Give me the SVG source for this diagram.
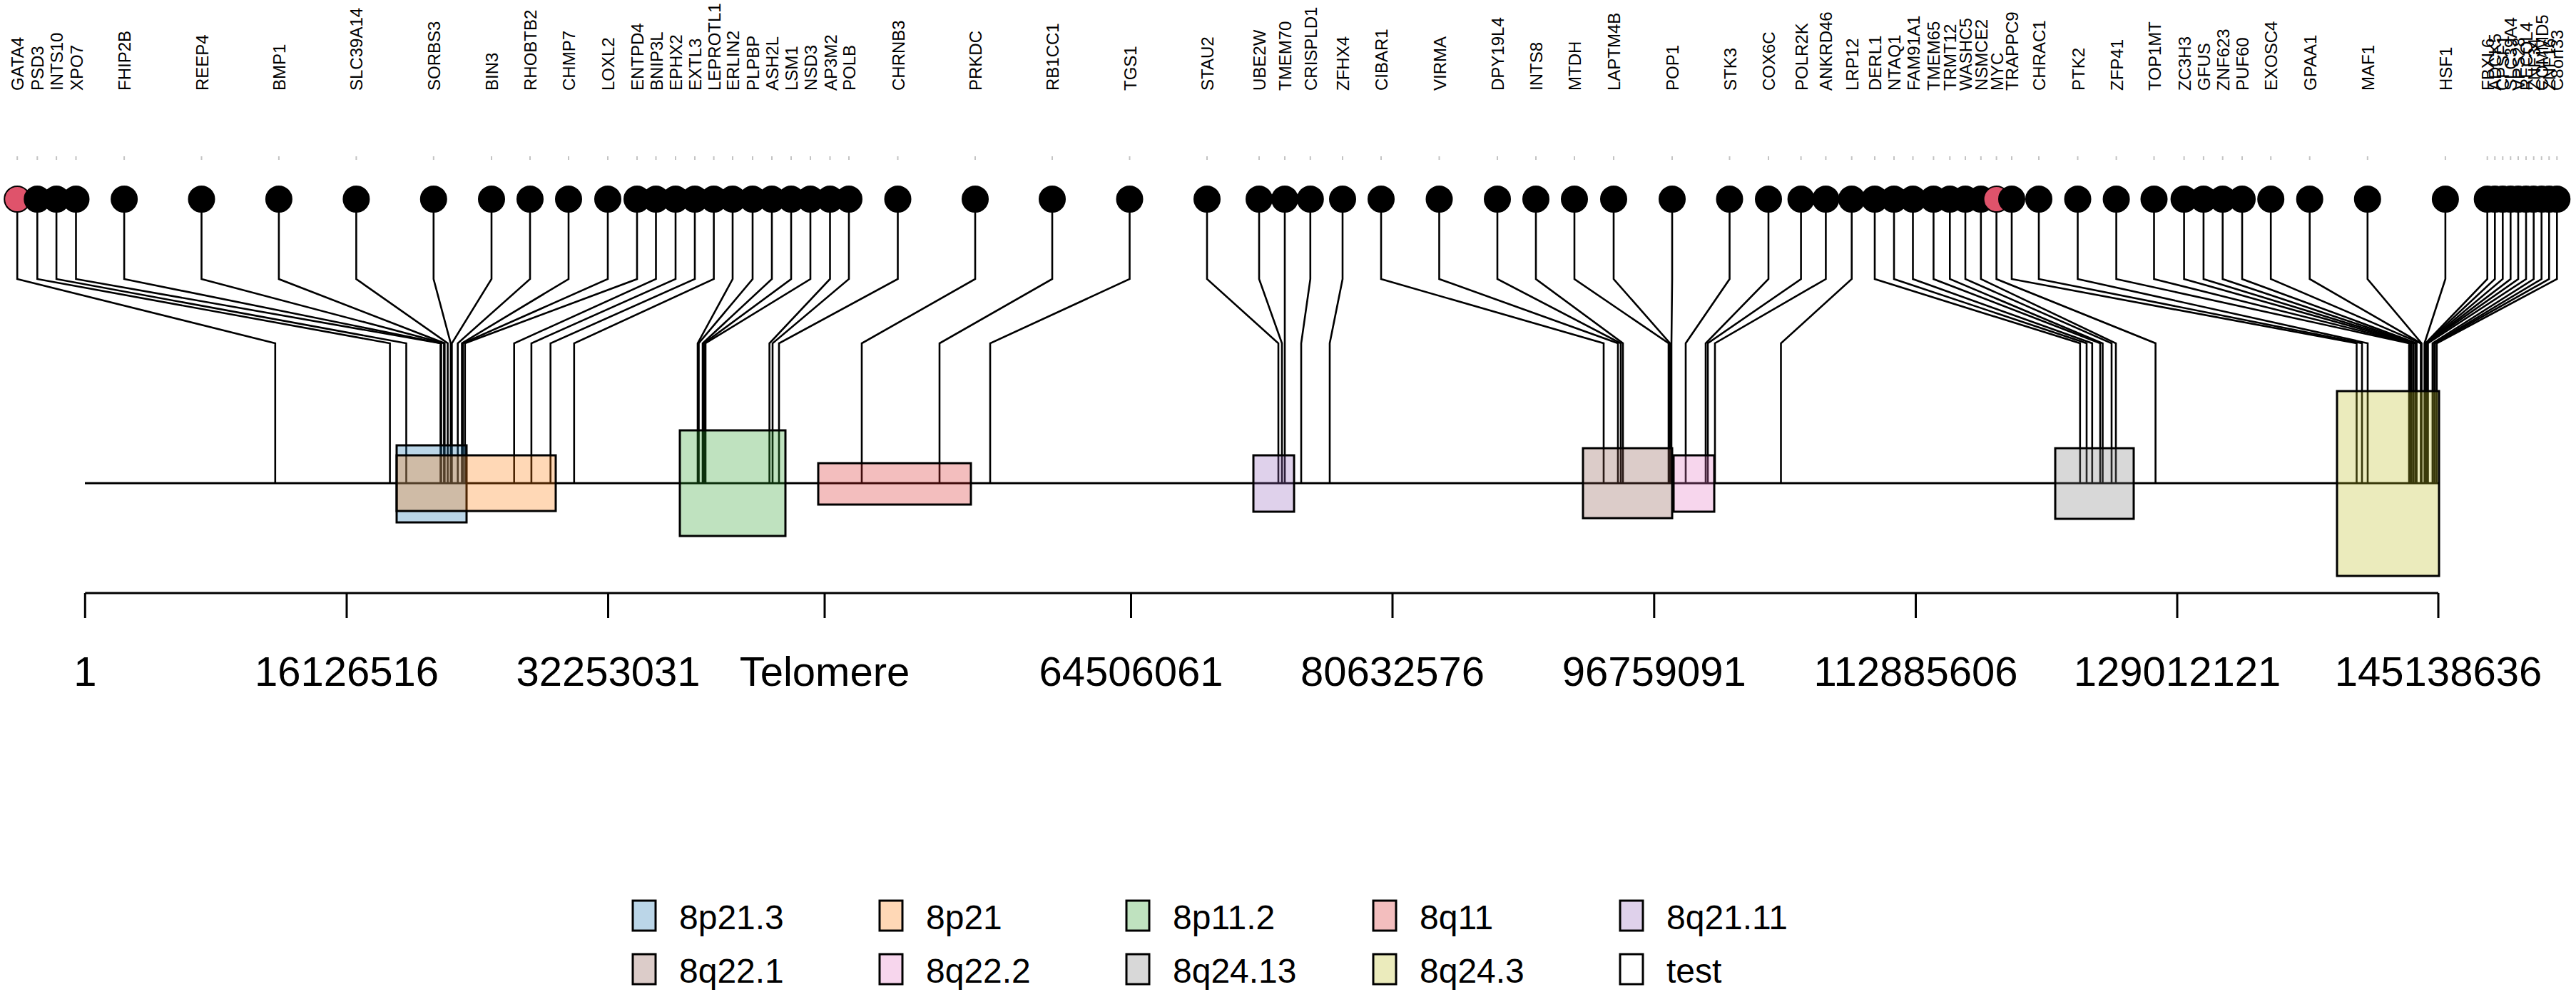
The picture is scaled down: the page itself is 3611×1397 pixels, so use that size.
<svg xmlns="http://www.w3.org/2000/svg" width="3611" height="1397" viewBox="0 0 3611 1397">
<style>
text{font-family:"Liberation Sans",Arial,sans-serif;fill:#000}
.lbl{font-size:24px}
.tk{fill:#c4c4c4}
.dot{fill:#000;stroke:#000;stroke-width:2}
.dotR{fill:#DF536B;stroke:#000;stroke-width:2}
#connectors polyline{fill:none;stroke:#000;stroke-width:2.6;stroke-linejoin:miter}
.band{stroke:#000;stroke-width:3;fill-opacity:0.3}
.axl{font-size:58px;text-anchor:middle}
.leg{font-size:48px}
.ax{stroke:#000;stroke-width:3;fill:none}
</style>
<rect width="3611" height="1397" fill="#fff"/>
<g id="connectors">
<polyline points="24.2,279 24.2,391 385.8,481 385.8,677"/>
<polyline points="52.3,279 52.3,391 546.6,481 546.6,677"/>
<polyline points="79.1,279 79.1,391 569.5,481 569.5,677"/>
<polyline points="106.5,279 106.5,391 617.5,481 617.5,677"/>
<polyline points="174.1,279 174.1,391 618.5,481 618.5,677"/>
<polyline points="282.5,279 282.5,391 622.4,481 622.4,677"/>
<polyline points="390.9,279 390.9,391 623.3,481 623.3,677"/>
<polyline points="499.4,279 499.4,391 627.6,481 627.6,677"/>
<polyline points="607.8,279 607.8,391 631.8,481 631.8,677"/>
<polyline points="689,279 689,391 633.4,481 633.4,677"/>
<polyline points="743,279 743,391 641.7,481 641.7,677"/>
<polyline points="797,279 797,391 647.5,481 647.5,677"/>
<polyline points="852,279 852,391 648.7,481 648.7,677"/>
<polyline points="893,279 893,391 651.8,481 651.8,677"/>
<polyline points="919.5,279 919.5,391 720.7,481 720.7,677"/>
<polyline points="947,279 947,391 744.9,481 744.9,677"/>
<polyline points="974,279 974,391 771.7,481 771.7,677"/>
<polyline points="1000.6,279 1000.6,391 804.8,481 804.8,677"/>
<polyline points="1027,279 1027,391 978,481 978,677"/>
<polyline points="1055,279 1055,391 979.5,481 979.5,677"/>
<polyline points="1082,279 1082,391 985,481 985,677"/>
<polyline points="1109,279 1109,391 987,481 987,677"/>
<polyline points="1136,279 1136,391 989,481 989,677"/>
<polyline points="1163.5,279 1163.5,391 1078.6,481 1078.6,677"/>
<polyline points="1190,279 1190,391 1083,481 1083,677"/>
<polyline points="1258.5,279 1258.5,391 1092,481 1092,677"/>
<polyline points="1367,279 1367,391 1208,481 1208,677"/>
<polyline points="1475,279 1475,391 1317,481 1317,677"/>
<polyline points="1583.5,279 1583.5,391 1388,481 1388,677"/>
<polyline points="1692,279 1692,391 1792,481 1792,677"/>
<polyline points="1765,279 1765,391 1797,481 1797,677"/>
<polyline points="1801,279 1801,391 1801,481 1801,677"/>
<polyline points="1836.8,279 1836.8,391 1824,481 1824,677"/>
<polyline points="1882,279 1882,391 1864,481 1864,677"/>
<polyline points="1936,279 1936,391 2248,481 2248,677"/>
<polyline points="2017.5,279 2017.5,391 2268,481 2268,677"/>
<polyline points="2099,279 2099,391 2272,481 2272,677"/>
<polyline points="2153,279 2153,391 2275,481 2275,677"/>
<polyline points="2207,279 2207,391 2339,481 2339,677"/>
<polyline points="2262,279 2262,391 2341,481 2341,677"/>
<polyline points="2344,279 2344,391 2343,481 2343,677"/>
<polyline points="2424.5,279 2424.5,391 2363,481 2363,677"/>
<polyline points="2479,279 2479,391 2391,481 2391,677"/>
<polyline points="2524.6,279 2524.6,391 2394,481 2394,677"/>
<polyline points="2559.4,279 2559.4,391 2404,481 2404,677"/>
<polyline points="2595.7,279 2595.7,391 2496.5,481 2496.5,677"/>
<polyline points="2628,279 2628,391 2915.8,481 2915.8,677"/>
<polyline points="2655,279 2655,391 2925,481 2925,677"/>
<polyline points="2681.5,279 2681.5,391 2932.8,481 2932.8,677"/>
<polyline points="2710.4,279 2710.4,391 2944,481 2944,677"/>
<polyline points="2733.3,279 2733.3,391 2947.5,481 2947.5,677"/>
<polyline points="2755,279 2755,391 2960,481 2960,677"/>
<polyline points="2776.8,279 2776.8,391 2966,481 2966,677"/>
<polyline points="2798.6,279 2798.6,391 3021.6,481 3021.6,677"/>
<polyline points="2820,279 2820,391 3303.5,481 3303.5,677"/>
<polyline points="2858,279 2858,391 3311,481 3311,677"/>
<polyline points="2912.5,279 2912.5,391 3319,481 3319,677"/>
<polyline points="2966.6,279 2966.6,391 3377,481 3377,677"/>
<polyline points="3019.5,279 3019.5,391 3379,481 3379,677"/>
<polyline points="3061.6,279 3061.6,391 3380.5,481 3380.5,677"/>
<polyline points="3088.9,279 3088.9,391 3383,481 3383,677"/>
<polyline points="3115.7,279 3115.7,391 3385.6,481 3385.6,677"/>
<polyline points="3143,279 3143,391 3387.6,481 3387.6,677"/>
<polyline points="3183.2,279 3183.2,391 3393.5,481 3393.5,677"/>
<polyline points="3237.7,279 3237.7,391 3394,481 3394,677"/>
<polyline points="3318.8,279 3318.8,391 3394.5,481 3394.5,677"/>
<polyline points="3427.9,279 3427.9,391 3398.6,481 3398.6,677"/>
<polyline points="3486.7,279 3486.7,391 3400,481 3400,677"/>
<polyline points="3497.3,279 3497.3,391 3400.6,481 3400.6,677"/>
<polyline points="3508.3,279 3508.3,391 3401,481 3401,677"/>
<polyline points="3519.3,279 3519.3,391 3401.3,481 3401.3,677"/>
<polyline points="3530,279 3530,391 3401.6,481 3401.6,677"/>
<polyline points="3541,279 3541,391 3403.5,481 3403.5,677"/>
<polyline points="3551.7,279 3551.7,391 3409.9,481 3409.9,677"/>
<polyline points="3562.7,279 3562.7,391 3412.4,481 3412.4,677"/>
<polyline points="3573.3,279 3573.3,391 3413.3,481 3413.3,677"/>
<polyline points="3584.3,279 3584.3,391 3415.8,481 3415.8,677"/>
</g>
<g id="chromosome"><line class="ax" x1="119" y1="677" x2="3419" y2="677"/></g>
<g id="band-8p21.3"><rect class="band" x="556" y="624" width="98" height="108" fill="#1F77B4"/></g>
<g id="band-8p21"><rect class="band" x="556" y="638" width="223" height="78" fill="#FF7F0E"/></g>
<g id="band-8p11.2"><rect class="band" x="953" y="603" width="148" height="148" fill="#2CA02C"/></g>
<g id="band-8q11"><rect class="band" x="1147" y="649" width="214" height="58" fill="#D62728"/></g>
<g id="band-8q21.11"><rect class="band" x="1757" y="638" width="57" height="79" fill="#9467BD"/></g>
<g id="band-8q22.1"><rect class="band" x="2219" y="628" width="125" height="98" fill="#8C564B"/></g>
<g id="band-8q22.2"><rect class="band" x="2346" y="638" width="57" height="79" fill="#E377C2"/></g>
<g id="band-8q24.13"><rect class="band" x="2881" y="628" width="110" height="99" fill="#7F7F7F"/></g>
<g id="band-8q24.3"><rect class="band" x="3276" y="548" width="143" height="259" fill="#BCBD22"/></g>
<g id="g-GATA4"><text class="lbl" transform="translate(33.2,127) rotate(-90)">GATA4</text><rect class="tk" x="23.2" y="219" width="2" height="5"/><circle class="dotR" cx="24.2" cy="279" r="18"/></g>
<g id="g-PSD3"><text class="lbl" transform="translate(61.3,127) rotate(-90)">PSD3</text><rect class="tk" x="51.3" y="219" width="2" height="5"/><circle class="dot" cx="52.3" cy="279" r="18"/></g>
<g id="g-INTS10"><text class="lbl" transform="translate(88.1,127) rotate(-90)">INTS10</text><rect class="tk" x="78.1" y="219" width="2" height="5"/><circle class="dot" cx="79.1" cy="279" r="18"/></g>
<g id="g-XPO7"><text class="lbl" transform="translate(115.5,127) rotate(-90)">XPO7</text><rect class="tk" x="105.5" y="219" width="2" height="5"/><circle class="dot" cx="106.5" cy="279" r="18"/></g>
<g id="g-FHIP2B"><text class="lbl" transform="translate(183.1,127) rotate(-90)">FHIP2B</text><rect class="tk" x="173.1" y="219" width="2" height="5"/><circle class="dot" cx="174.1" cy="279" r="18"/></g>
<g id="g-REEP4"><text class="lbl" transform="translate(291.5,127) rotate(-90)">REEP4</text><rect class="tk" x="281.5" y="219" width="2" height="5"/><circle class="dot" cx="282.5" cy="279" r="18"/></g>
<g id="g-BMP1"><text class="lbl" transform="translate(399.9,127) rotate(-90)">BMP1</text><rect class="tk" x="389.9" y="219" width="2" height="5"/><circle class="dot" cx="390.9" cy="279" r="18"/></g>
<g id="g-SLC39A14"><text class="lbl" transform="translate(508.4,127) rotate(-90)">SLC39A14</text><rect class="tk" x="498.4" y="219" width="2" height="5"/><circle class="dot" cx="499.4" cy="279" r="18"/></g>
<g id="g-SORBS3"><text class="lbl" transform="translate(616.8,127) rotate(-90)">SORBS3</text><rect class="tk" x="606.8" y="219" width="2" height="5"/><circle class="dot" cx="607.8" cy="279" r="18"/></g>
<g id="g-BIN3"><text class="lbl" transform="translate(698,127) rotate(-90)">BIN3</text><rect class="tk" x="688" y="219" width="2" height="5"/><circle class="dot" cx="689" cy="279" r="18"/></g>
<g id="g-RHOBTB2"><text class="lbl" transform="translate(752,127) rotate(-90)">RHOBTB2</text><rect class="tk" x="742" y="219" width="2" height="5"/><circle class="dot" cx="743" cy="279" r="18"/></g>
<g id="g-CHMP7"><text class="lbl" transform="translate(806,127) rotate(-90)">CHMP7</text><rect class="tk" x="796" y="219" width="2" height="5"/><circle class="dot" cx="797" cy="279" r="18"/></g>
<g id="g-LOXL2"><text class="lbl" transform="translate(861,127) rotate(-90)">LOXL2</text><rect class="tk" x="851" y="219" width="2" height="5"/><circle class="dot" cx="852" cy="279" r="18"/></g>
<g id="g-ENTPD4"><text class="lbl" transform="translate(902,127) rotate(-90)">ENTPD4</text><rect class="tk" x="892" y="219" width="2" height="5"/><circle class="dot" cx="893" cy="279" r="18"/></g>
<g id="g-BNIP3L"><text class="lbl" transform="translate(928.5,127) rotate(-90)">BNIP3L</text><rect class="tk" x="918.5" y="219" width="2" height="5"/><circle class="dot" cx="919.5" cy="279" r="18"/></g>
<g id="g-EPHX2"><text class="lbl" transform="translate(956,127) rotate(-90)">EPHX2</text><rect class="tk" x="946" y="219" width="2" height="5"/><circle class="dot" cx="947" cy="279" r="18"/></g>
<g id="g-EXTL3"><text class="lbl" transform="translate(983,127) rotate(-90)">EXTL3</text><rect class="tk" x="973" y="219" width="2" height="5"/><circle class="dot" cx="974" cy="279" r="18"/></g>
<g id="g-LEPROTL1"><text class="lbl" transform="translate(1009.6,127) rotate(-90)">LEPROTL1</text><rect class="tk" x="999.6" y="219" width="2" height="5"/><circle class="dot" cx="1000.6" cy="279" r="18"/></g>
<g id="g-ERLIN2"><text class="lbl" transform="translate(1036,127) rotate(-90)">ERLIN2</text><rect class="tk" x="1026" y="219" width="2" height="5"/><circle class="dot" cx="1027" cy="279" r="18"/></g>
<g id="g-PLPBP"><text class="lbl" transform="translate(1064,127) rotate(-90)">PLPBP</text><rect class="tk" x="1054" y="219" width="2" height="5"/><circle class="dot" cx="1055" cy="279" r="18"/></g>
<g id="g-ASH2L"><text class="lbl" transform="translate(1091,127) rotate(-90)">ASH2L</text><rect class="tk" x="1081" y="219" width="2" height="5"/><circle class="dot" cx="1082" cy="279" r="18"/></g>
<g id="g-LSM1"><text class="lbl" transform="translate(1118,127) rotate(-90)">LSM1</text><rect class="tk" x="1108" y="219" width="2" height="5"/><circle class="dot" cx="1109" cy="279" r="18"/></g>
<g id="g-NSD3"><text class="lbl" transform="translate(1145,127) rotate(-90)">NSD3</text><rect class="tk" x="1135" y="219" width="2" height="5"/><circle class="dot" cx="1136" cy="279" r="18"/></g>
<g id="g-AP3M2"><text class="lbl" transform="translate(1172.5,127) rotate(-90)">AP3M2</text><rect class="tk" x="1162.5" y="219" width="2" height="5"/><circle class="dot" cx="1163.5" cy="279" r="18"/></g>
<g id="g-POLB"><text class="lbl" transform="translate(1199,127) rotate(-90)">POLB</text><rect class="tk" x="1189" y="219" width="2" height="5"/><circle class="dot" cx="1190" cy="279" r="18"/></g>
<g id="g-CHRNB3"><text class="lbl" transform="translate(1267.5,127) rotate(-90)">CHRNB3</text><rect class="tk" x="1257.5" y="219" width="2" height="5"/><circle class="dot" cx="1258.5" cy="279" r="18"/></g>
<g id="g-PRKDC"><text class="lbl" transform="translate(1376,127) rotate(-90)">PRKDC</text><rect class="tk" x="1366" y="219" width="2" height="5"/><circle class="dot" cx="1367" cy="279" r="18"/></g>
<g id="g-RB1CC1"><text class="lbl" transform="translate(1484,127) rotate(-90)">RB1CC1</text><rect class="tk" x="1474" y="219" width="2" height="5"/><circle class="dot" cx="1475" cy="279" r="18"/></g>
<g id="g-TGS1"><text class="lbl" transform="translate(1592.5,127) rotate(-90)">TGS1</text><rect class="tk" x="1582.5" y="219" width="2" height="5"/><circle class="dot" cx="1583.5" cy="279" r="18"/></g>
<g id="g-STAU2"><text class="lbl" transform="translate(1701,127) rotate(-90)">STAU2</text><rect class="tk" x="1691" y="219" width="2" height="5"/><circle class="dot" cx="1692" cy="279" r="18"/></g>
<g id="g-UBE2W"><text class="lbl" transform="translate(1774,127) rotate(-90)">UBE2W</text><rect class="tk" x="1764" y="219" width="2" height="5"/><circle class="dot" cx="1765" cy="279" r="18"/></g>
<g id="g-TMEM70"><text class="lbl" transform="translate(1810,127) rotate(-90)">TMEM70</text><rect class="tk" x="1800" y="219" width="2" height="5"/><circle class="dot" cx="1801" cy="279" r="18"/></g>
<g id="g-CRISPLD1"><text class="lbl" transform="translate(1845.8,127) rotate(-90)">CRISPLD1</text><rect class="tk" x="1835.8" y="219" width="2" height="5"/><circle class="dot" cx="1836.8" cy="279" r="18"/></g>
<g id="g-ZFHX4"><text class="lbl" transform="translate(1891,127) rotate(-90)">ZFHX4</text><rect class="tk" x="1881" y="219" width="2" height="5"/><circle class="dot" cx="1882" cy="279" r="18"/></g>
<g id="g-CIBAR1"><text class="lbl" transform="translate(1945,127) rotate(-90)">CIBAR1</text><rect class="tk" x="1935" y="219" width="2" height="5"/><circle class="dot" cx="1936" cy="279" r="18"/></g>
<g id="g-VIRMA"><text class="lbl" transform="translate(2026.5,127) rotate(-90)">VIRMA</text><rect class="tk" x="2016.5" y="219" width="2" height="5"/><circle class="dot" cx="2017.5" cy="279" r="18"/></g>
<g id="g-DPY19L4"><text class="lbl" transform="translate(2108,127) rotate(-90)">DPY19L4</text><rect class="tk" x="2098" y="219" width="2" height="5"/><circle class="dot" cx="2099" cy="279" r="18"/></g>
<g id="g-INTS8"><text class="lbl" transform="translate(2162,127) rotate(-90)">INTS8</text><rect class="tk" x="2152" y="219" width="2" height="5"/><circle class="dot" cx="2153" cy="279" r="18"/></g>
<g id="g-MTDH"><text class="lbl" transform="translate(2216,127) rotate(-90)">MTDH</text><rect class="tk" x="2206" y="219" width="2" height="5"/><circle class="dot" cx="2207" cy="279" r="18"/></g>
<g id="g-LAPTM4B"><text class="lbl" transform="translate(2271,127) rotate(-90)">LAPTM4B</text><rect class="tk" x="2261" y="219" width="2" height="5"/><circle class="dot" cx="2262" cy="279" r="18"/></g>
<g id="g-POP1"><text class="lbl" transform="translate(2353,127) rotate(-90)">POP1</text><rect class="tk" x="2343" y="219" width="2" height="5"/><circle class="dot" cx="2344" cy="279" r="18"/></g>
<g id="g-STK3"><text class="lbl" transform="translate(2433.5,127) rotate(-90)">STK3</text><rect class="tk" x="2423.5" y="219" width="2" height="5"/><circle class="dot" cx="2424.5" cy="279" r="18"/></g>
<g id="g-COX6C"><text class="lbl" transform="translate(2488,127) rotate(-90)">COX6C</text><rect class="tk" x="2478" y="219" width="2" height="5"/><circle class="dot" cx="2479" cy="279" r="18"/></g>
<g id="g-POLR2K"><text class="lbl" transform="translate(2533.6,127) rotate(-90)">POLR2K</text><rect class="tk" x="2523.6" y="219" width="2" height="5"/><circle class="dot" cx="2524.6" cy="279" r="18"/></g>
<g id="g-ANKRD46"><text class="lbl" transform="translate(2568.4,127) rotate(-90)">ANKRD46</text><rect class="tk" x="2558.4" y="219" width="2" height="5"/><circle class="dot" cx="2559.4" cy="279" r="18"/></g>
<g id="g-LRP12"><text class="lbl" transform="translate(2604.7,127) rotate(-90)">LRP12</text><rect class="tk" x="2594.7" y="219" width="2" height="5"/><circle class="dot" cx="2595.7" cy="279" r="18"/></g>
<g id="g-DERL1"><text class="lbl" transform="translate(2637,127) rotate(-90)">DERL1</text><rect class="tk" x="2627" y="219" width="2" height="5"/><circle class="dot" cx="2628" cy="279" r="18"/></g>
<g id="g-NTAQ1"><text class="lbl" transform="translate(2664,127) rotate(-90)">NTAQ1</text><rect class="tk" x="2654" y="219" width="2" height="5"/><circle class="dot" cx="2655" cy="279" r="18"/></g>
<g id="g-FAM91A1"><text class="lbl" transform="translate(2690.5,127) rotate(-90)">FAM91A1</text><rect class="tk" x="2680.5" y="219" width="2" height="5"/><circle class="dot" cx="2681.5" cy="279" r="18"/></g>
<g id="g-TMEM65"><text class="lbl" transform="translate(2719.4,127) rotate(-90)">TMEM65</text><rect class="tk" x="2709.4" y="219" width="2" height="5"/><circle class="dot" cx="2710.4" cy="279" r="18"/></g>
<g id="g-TRMT12"><text class="lbl" transform="translate(2742.3,127) rotate(-90)">TRMT12</text><rect class="tk" x="2732.3" y="219" width="2" height="5"/><circle class="dot" cx="2733.3" cy="279" r="18"/></g>
<g id="g-WASHC5"><text class="lbl" transform="translate(2764,127) rotate(-90)">WASHC5</text><rect class="tk" x="2754" y="219" width="2" height="5"/><circle class="dot" cx="2755" cy="279" r="18"/></g>
<g id="g-NSMCE2"><text class="lbl" transform="translate(2785.8,127) rotate(-90)">NSMCE2</text><rect class="tk" x="2775.8" y="219" width="2" height="5"/><circle class="dot" cx="2776.8" cy="279" r="18"/></g>
<g id="g-MYC"><text class="lbl" transform="translate(2807.6,127) rotate(-90)">MYC</text><rect class="tk" x="2797.6" y="219" width="2" height="5"/><circle class="dotR" cx="2798.6" cy="279" r="18"/></g>
<g id="g-TRAPPC9"><text class="lbl" transform="translate(2829,127) rotate(-90)">TRAPPC9</text><rect class="tk" x="2819" y="219" width="2" height="5"/><circle class="dot" cx="2820" cy="279" r="18"/></g>
<g id="g-CHRAC1"><text class="lbl" transform="translate(2867,127) rotate(-90)">CHRAC1</text><rect class="tk" x="2857" y="219" width="2" height="5"/><circle class="dot" cx="2858" cy="279" r="18"/></g>
<g id="g-PTK2"><text class="lbl" transform="translate(2921.5,127) rotate(-90)">PTK2</text><rect class="tk" x="2911.5" y="219" width="2" height="5"/><circle class="dot" cx="2912.5" cy="279" r="18"/></g>
<g id="g-ZFP41"><text class="lbl" transform="translate(2975.6,127) rotate(-90)">ZFP41</text><rect class="tk" x="2965.6" y="219" width="2" height="5"/><circle class="dot" cx="2966.6" cy="279" r="18"/></g>
<g id="g-TOP1MT"><text class="lbl" transform="translate(3028.5,127) rotate(-90)">TOP1MT</text><rect class="tk" x="3018.5" y="219" width="2" height="5"/><circle class="dot" cx="3019.5" cy="279" r="18"/></g>
<g id="g-ZC3H3"><text class="lbl" transform="translate(3070.6,127) rotate(-90)">ZC3H3</text><rect class="tk" x="3060.6" y="219" width="2" height="5"/><circle class="dot" cx="3061.6" cy="279" r="18"/></g>
<g id="g-GFUS"><text class="lbl" transform="translate(3097.9,127) rotate(-90)">GFUS</text><rect class="tk" x="3087.9" y="219" width="2" height="5"/><circle class="dot" cx="3088.9" cy="279" r="18"/></g>
<g id="g-ZNF623"><text class="lbl" transform="translate(3124.7,127) rotate(-90)">ZNF623</text><rect class="tk" x="3114.7" y="219" width="2" height="5"/><circle class="dot" cx="3115.7" cy="279" r="18"/></g>
<g id="g-PUF60"><text class="lbl" transform="translate(3152,127) rotate(-90)">PUF60</text><rect class="tk" x="3142" y="219" width="2" height="5"/><circle class="dot" cx="3143" cy="279" r="18"/></g>
<g id="g-EXOSC4"><text class="lbl" transform="translate(3192.2,127) rotate(-90)">EXOSC4</text><rect class="tk" x="3182.2" y="219" width="2" height="5"/><circle class="dot" cx="3183.2" cy="279" r="18"/></g>
<g id="g-GPAA1"><text class="lbl" transform="translate(3246.7,127) rotate(-90)">GPAA1</text><rect class="tk" x="3236.7" y="219" width="2" height="5"/><circle class="dot" cx="3237.7" cy="279" r="18"/></g>
<g id="g-MAF1"><text class="lbl" transform="translate(3327.8,127) rotate(-90)">MAF1</text><rect class="tk" x="3317.8" y="219" width="2" height="5"/><circle class="dot" cx="3318.8" cy="279" r="18"/></g>
<g id="g-HSF1"><text class="lbl" transform="translate(3436.9,127) rotate(-90)">HSF1</text><rect class="tk" x="3426.9" y="219" width="2" height="5"/><circle class="dot" cx="3427.9" cy="279" r="18"/></g>
<g id="g-FBXL6"><text class="lbl" transform="translate(3495.7,127) rotate(-90)">FBXL6</text><rect class="tk" x="3485.7" y="219" width="2" height="5"/><circle class="dot" cx="3486.7" cy="279" r="18"/></g>
<g id="g-ADCK5"><text class="lbl" transform="translate(3506.3,127) rotate(-90)">ADCK5</text><rect class="tk" x="3496.3" y="219" width="2" height="5"/><circle class="dot" cx="3497.3" cy="279" r="18"/></g>
<g id="g-CPSF1"><text class="lbl" transform="translate(3517.3,127) rotate(-90)">CPSF1</text><rect class="tk" x="3507.3" y="219" width="2" height="5"/><circle class="dot" cx="3508.3" cy="279" r="18"/></g>
<g id="g-SLC39A4"><text class="lbl" transform="translate(3528.3,127) rotate(-90)">SLC39A4</text><rect class="tk" x="3518.3" y="219" width="2" height="5"/><circle class="dot" cx="3519.3" cy="279" r="18"/></g>
<g id="g-VPS28"><text class="lbl" transform="translate(3539,127) rotate(-90)">VPS28</text><rect class="tk" x="3529" y="219" width="2" height="5"/><circle class="dot" cx="3530" cy="279" r="18"/></g>
<g id="g-RECQL4"><text class="lbl" transform="translate(3550,127) rotate(-90)">RECQL4</text><rect class="tk" x="3540" y="219" width="2" height="5"/><circle class="dot" cx="3541" cy="279" r="18"/></g>
<g id="g-ZNF34"><text class="lbl" transform="translate(3560.7,127) rotate(-90)">ZNF34</text><rect class="tk" x="3550.7" y="219" width="2" height="5"/><circle class="dot" cx="3551.7" cy="279" r="18"/></g>
<g id="g-COMMD5"><text class="lbl" transform="translate(3571.7,127) rotate(-90)">COMMD5</text><rect class="tk" x="3561.7" y="219" width="2" height="5"/><circle class="dot" cx="3562.7" cy="279" r="18"/></g>
<g id="g-ZNF16"><text class="lbl" transform="translate(3582.3,127) rotate(-90)">ZNF16</text><rect class="tk" x="3572.3" y="219" width="2" height="5"/><circle class="dot" cx="3573.3" cy="279" r="18"/></g>
<g id="g-C8orf33"><text class="lbl" transform="translate(3593.3,127) rotate(-90)">C8orf33</text><rect class="tk" x="3583.3" y="219" width="2" height="5"/><circle class="dot" cx="3584.3" cy="279" r="18"/></g>
<g id="axis">
<line class="ax" x1="119.3" y1="831" x2="3418" y2="831"/>
<path class="ax" d="M119.3,831V866M486,831V866M852.5,831V866M1156,831V866M1585.5,831V866M1952,831V866M2318.8,831V866M2685.5,831V866M3052,831V866M3418,831V866"/>
<text class="axl" x="119.3" y="961">1</text>
<text class="axl" x="486" y="961">16126516</text>
<text class="axl" x="852.5" y="961">32253031</text>
<text class="axl" x="1156" y="961">Telomere</text>
<text class="axl" x="1585.5" y="961">64506061</text>
<text class="axl" x="1952" y="961">80632576</text>
<text class="axl" x="2318.8" y="961">96759091</text>
<text class="axl" x="2685.5" y="961">112885606</text>
<text class="axl" x="3052" y="961">129012121</text>
<text class="axl" x="3418" y="961">145138636</text>
</g>
<g id="legend">
<rect class="band" x="887" y="1262" width="32" height="42" fill="#1F77B4"/><text class="leg" x="952" y="1302">8p21.3</text>
<rect class="band" x="1233" y="1262" width="32" height="42" fill="#FF7F0E"/><text class="leg" x="1298" y="1302">8p21</text>
<rect class="band" x="1579" y="1262" width="32" height="42" fill="#2CA02C"/><text class="leg" x="1644" y="1302">8p11.2</text>
<rect class="band" x="1925" y="1262" width="32" height="42" fill="#D62728"/><text class="leg" x="1990" y="1302">8q11</text>
<rect class="band" x="2271" y="1262" width="32" height="42" fill="#9467BD"/><text class="leg" x="2336" y="1302">8q21.11</text>
<rect class="band" x="887" y="1337" width="32" height="42" fill="#8C564B"/><text class="leg" x="952" y="1377">8q22.1</text>
<rect class="band" x="1233" y="1337" width="32" height="42" fill="#E377C2"/><text class="leg" x="1298" y="1377">8q22.2</text>
<rect class="band" x="1579" y="1337" width="32" height="42" fill="#7F7F7F"/><text class="leg" x="1644" y="1377">8q24.13</text>
<rect class="band" x="1925" y="1337" width="32" height="42" fill="#BCBD22"/><text class="leg" x="1990" y="1377">8q24.3</text>
<rect x="2271" y="1337" width="32" height="42" fill="#fff" stroke="#000" stroke-width="3"/><text class="leg" x="2336" y="1377">test</text>
</g>
</svg>
